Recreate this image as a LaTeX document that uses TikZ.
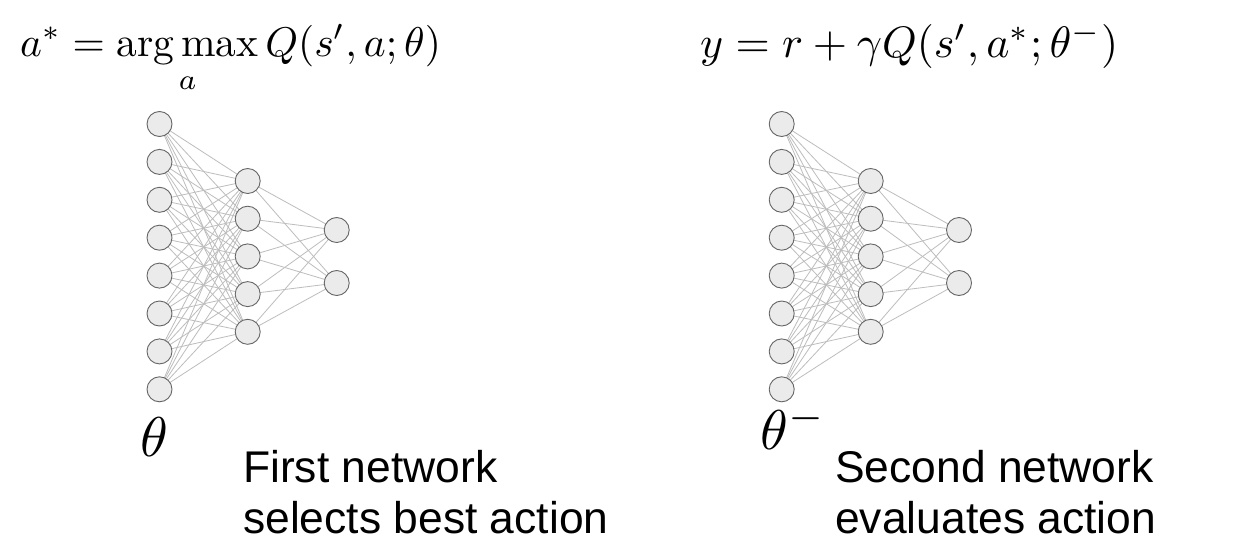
\documentclass[tikz,border=0pt]{standalone}
\usepackage{fontspec}
\usepackage{amsmath}
\usepackage{graphicx}
\setsansfont{Liberation Sans}
\pgfdeclarelayer{bg}
\pgfdeclarelayer{paper}
\pgfsetlayers{paper,bg,main}
\tikzset{
  neuron/.style={circle, draw=black!60, fill=black!8, line width=0.9pt, minimum size=25pt, inner sep=0pt},
  synapse/.style={draw=black!26, line width=0.8pt},
  formula/.style={anchor=base west, inner sep=0pt},
  caption/.style={anchor=base west, inner sep=0pt, font=\sffamily\fontsize{44.4}{51}\selectfont},
}
\begin{document}
\begin{tikzpicture}[x=1pt,y=-1pt]
\begin{pgfonlayer}{paper}
\useasboundingbox[fill=white] (0,0) rectangle (1249,554);
\end{pgfonlayer}
% formulas
\node[formula] (f1) at (20,56) {\scalebox{4.15}{$a^* = \mathop{\mathrm{arg\,max}}\limits_a Q(s',a;\theta)$}};
\node[formula] (f2) at (700,57) {\scalebox{4.4}{$y = r + \gamma Q(s',a^*;\theta^-)$}};
% networks
\foreach \net/\xi/\xh/\xo in {L/159.5/247.7/336.7, R/781.7/870.7/959} {
  \foreach \i in {0,...,7} {
    \node[neuron] (\net in\i) at (\xi,124+37.9*\i) {};
  }
  \foreach \j in {0,...,4} {
    \node[neuron] (\net hid\j) at (\xh,181+37.7*\j) {};
  }
  \node[neuron] (\net out0) at (\xo,230) {};
  \node[neuron] (\net out1) at (\xo,283) {};
  \begin{pgfonlayer}{bg}
    \foreach \i in {0,...,7} {
      \foreach \j in {0,...,4} {
        \draw[synapse] (\net in\i.center) -- (\net hid\j.center);
      }
    }
    \foreach \j in {0,...,4} {
      \foreach \k in {0,1} {
        \draw[synapse] (\net hid\j.center) -- (\net out\k.center);
      }
    }
  \end{pgfonlayer}
}
% parameter labels
\node[formula] (t1) at (140,456) {\scalebox{5.6}{$\theta$}};
\node[formula] (t2) at (760,449) {\scalebox{5.6}{$\theta^-$}};
% captions
\node[caption] (c1a) at (243,482) {First network};
\node[caption] (c1b) at (243,533) {selects best action};
\node[caption] (c2a) at (835,482) {Second network};
\node[caption] (c2b) at (835,533) {evaluates action};
\end{tikzpicture}
\end{document}
